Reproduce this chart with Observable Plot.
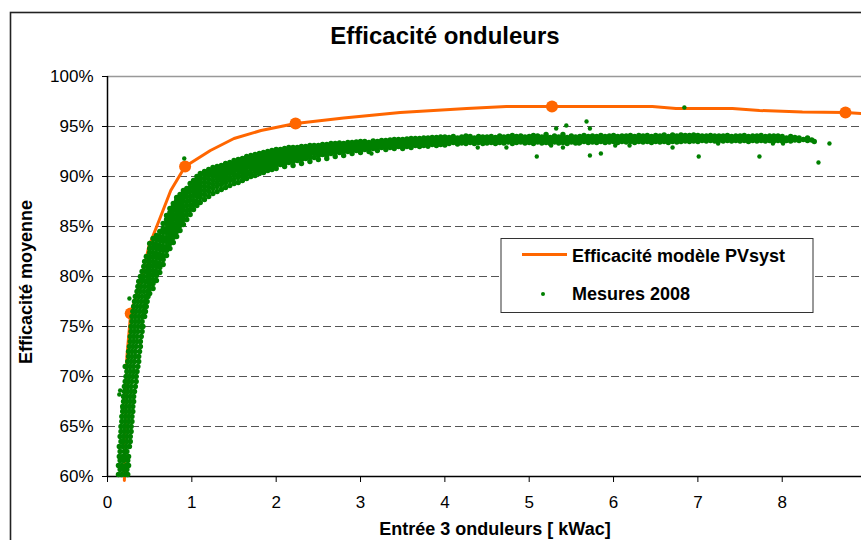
<!DOCTYPE html>
<html><head><meta charset="utf-8">
<script src="https://cdn.jsdelivr.net/npm/d3@7"></script>
<script src="https://cdn.jsdelivr.net/npm/@observablehq/plot@0.6"></script>
<style>
html,body{margin:0;padding:0;background:#fff;overflow:hidden}
#chart{position:relative;width:861px;height:540px}
svg{display:block}
</style></head><body><div id="chart"></div>
<script>
// ---- Tick values ----
const xTicks = [0,1,2,3,4,5,6,7,8];
const yTicks = [60,65,70,75,80,85,90,95,100];

// ---- Efficacité modèle PVsyst (line) ----
const modelX = [0.2,0.23,0.275,0.41,0.49,0.63,0.75,0.92,1.22,1.5,1.82,2.23,2.8,3.47,4.26,4.73,5.27,5.83,6.46,6.74,7.41,7.73,8.24,8.75,8.94];
const modelY = [59.6,72.0,76.3,80.0,83.0,86.0,88.6,91.0,92.6,93.8,94.6,95.3,95.85,96.4,96.8,97.0,97.0,97.0,97.0,96.8,96.8,96.6,96.45,96.4,96.3];
// model markers
const markerX = [0.275,0.92,2.23,5.27,8.75];
const markerY = [76.3,91.0,95.3,97.0,96.4];

// ---- Mesures 2008 (scatter) ----
// steep part, read row by row: [efficacité %, [kWac ...]]
const mesRows = [
[60.2,[.13,.17,.21,.24]],[60.7,[.15,.19,.23]],[61.1,[.13,.17,.22,.25]],[61.6,[.15,.19,.24]],
[62.0,[.14,.18,.21,.25]],[62.5,[.15,.20,.23]],[63.0,[.14,.18,.22,.26]],[63.5,[.16,.19,.23,.27]],
[64.0,[.15,.19,.23,.27]],[64.5,[.16,.20,.24,.28]],[65.0,[.16,.20,.24,.28]],[65.5,[.17,.21,.25,.29]],
[66.0,[.17,.21,.25,.29]],[66.5,[.18,.22,.26,.30]],[67.0,[.18,.22,.26,.30]],[67.5,[.19,.23,.27,.31]],
[68.0,[.19,.23,.27,.31]],[68.5,[.20,.24,.28,.32]],[69.0,[.20,.24,.28,.33]],[69.5,[.21,.25,.29,.34]],
[70.0,[.22,.26,.30,.34]],[70.5,[.23,.27,.31,.35]],[71.0,[.21,.23,.27,.31,.36]],[71.5,[.24,.28,.32,.37]],
[72.0,[.25,.29,.33,.37]],[72.5,[.25,.29,.33,.38]],[73.0,[.26,.30,.34,.39]],[73.5,[.27,.31,.35,.39]],
[74.0,[.27,.31,.35,.40]],[74.5,[.28,.32,.36,.41]],[75.0,[.28,.32,.36,.40,.42]],[75.5,[.29,.33,.37,.41]],
[76.0,[.29,.33,.37,.41,.44]],[76.5,[.30,.34,.38,.42,.45]],[77.0,[.31,.35,.39,.43,.46]],[77.5,[.32,.36,.40,.44,.47]],
[78.0,[.33,.37,.41,.45,.48]],[78.5,[.35,.39,.43,.47]],[79.0,[.36,.40,.44,.48]],[79.5,[.37,.41,.45,.48]],
[80.0,[.39,.43,.47]],[80.5,[.41,.45,.48]],[81.0,[.43,.47]],[81.5,[.44,.48]],[82.0,[.46]]
];
// rest of the cloud, read column by column: [kWac, [efficacité % ...]]
const mesCols = [
[0.50,[78.3,78.8,79.2,79.7,80.1,80.6,81.0,81.5,81.9,82.4,82.8,83.3]],
[0.54,[78.8,79.3,79.7,80.2,80.6,81.1,81.5,82.0,82.4,82.9,83.3,83.8]],
[0.58,[79.6,80.1,80.5,81.0,81.4,81.9,82.3,82.8,83.2,83.7,84.1]],
[0.62,[80.4,80.9,81.3,81.8,82.2,82.7,83.1,83.6,84.0,84.5]],
[0.66,[81.2,81.7,82.1,82.6,83.0,83.5,83.9,84.4,84.8,85.3]],
[0.70,[82.1,82.6,83.0,83.5,83.9,84.4,84.8,85.3,85.7,86.1]],
[0.74,[82.8,83.3,83.7,84.2,84.6,85.1,85.5,86.0,86.4,86.8]],
[0.78,[83.4,83.9,84.3,84.8,85.2,85.7,86.1,86.6,87.0,87.3]],
[0.82,[84.0,84.5,84.9,85.4,85.8,86.3,86.7,87.2,87.6,87.9]],
[0.86,[84.6,85.1,85.5,86.0,86.4,86.9,87.3,87.8,88.2]],
[0.90,[85.2,85.7,86.1,86.6,87.0,87.5,87.9,88.3,88.6]],
[0.94,[85.7,86.2,86.6,87.1,87.5,88.0,88.4,88.8]],
[0.98,[86.2,86.7,87.1,87.6,88.0,88.5,88.9,89.3]],
[1.02,[86.7,87.2,87.6,88.1,88.5,88.9,89.3,89.6]],
[1.06,[87.1,87.5,88.0,88.4,88.8,89.2,89.6,90.0]],
[1.10,[87.4,87.9,88.3,88.7,89.1,89.5,89.9,90.3]],
[1.15,[87.7,88.2,88.6,89.0,89.4,89.8,90.2,90.5]],
[1.20,[88.0,88.5,88.9,89.3,89.7,90.1,90.4,90.7]],
[1.25,[88.3,88.8,89.2,89.6,90.0,90.3,90.6,90.9]],
[1.30,[88.5,89.0,89.4,89.8,90.1,90.4,90.7,91.0]],
[1.35,[88.7,89.2,89.6,89.9,90.2,90.5,90.8,91.1]],
[1.40,[88.9,89.4,89.8,90.1,90.4,90.7,91.0,91.3]],
[1.45,[89.1,89.6,89.9,90.3,90.6,90.9,91.2,91.4]],
[1.50,[89.3,89.7,90.1,90.4,90.7,91.0,91.3,91.6]],
[1.55,[89.4,89.9,90.2,90.6,90.9,91.2,91.5,91.7]],
[1.60,[89.6,90.0,90.4,90.7,91.0,91.3,91.6,91.8]],
[1.65,[89.8,90.2,90.5,90.9,91.2,91.5,91.7,92.0]],
[1.70,[90.0,90.3,90.7,91.0,91.3,91.6,91.8,92.1]],
[1.75,[90.1,90.5,90.8,91.1,91.4,91.7,91.9,92.2]],
[1.80,[90.3,90.6,90.9,91.2,91.5,91.8,92.0,92.3]],
[1.85,[90.4,90.8,91.1,91.4,91.7,91.9,92.2,92.4]],
[1.90,[90.6,90.9,91.2,91.5,91.8,92.0,92.3,92.5]],
[1.95,[90.7,91.0,91.3,91.6,91.9,92.1,92.4,92.6]],
[2.00,[90.8,91.1,91.4,91.7,92.0,92.2,92.4,92.7]],
[2.05,[91.2,91.5,91.8,92.1,92.3,92.5,92.7]],
[2.10,[91.0,91.3,91.6,91.9,92.2,92.4,92.6,92.8]],
[2.15,[91.4,91.7,92.0,92.3,92.5,92.7,92.9]],
[2.20,[91.1,91.5,91.8,92.1,92.4,92.6,92.9]],
[2.25,[91.6,91.9,92.2,92.5,92.7,92.9]],
[2.30,[91.3,91.7,92.0,92.3,92.6,92.8,93.0]],
[2.35,[91.8,92.1,92.4,92.6,92.8,93.0]],
[2.40,[91.5,91.9,92.2,92.5,92.7,92.9,93.1]],
[2.45,[91.9,92.3,92.6,92.8,93.0,93.1]],
[2.50,[91.7,92.1,92.4,92.7,92.9,93.1]],
[2.55,[92.2,92.5,92.8,93.0,93.2]],
[2.60,[91.8,92.1,92.4,92.7,92.9,93.2]],
[2.65,[92.3,92.6,92.9,93.1,93.3]],
[2.70,[92.0,92.4,92.7,92.9,93.1,93.3]],
[2.75,[92.4,92.7,93.0,93.2,93.35]],
[2.80,[92.1,92.5,92.8,93.1,93.3]],
[2.85,[92.5,92.8,93.0,93.2,93.4]],
[2.90,[92.3,92.6,92.9,93.1,93.4]],
[2.95,[92.6,92.9,93.2,93.45]],
[3.00,[92.4,92.7,93.0,93.2,93.5]],
[3.05,[92.7,93.0,93.3,93.5]],
[3.10,[92.5,92.8,93.1,93.4]],
[3.15,[92.8,93.1,93.3,93.55]],
[3.20,[92.6,92.9,93.2,93.5]],
[3.25,[92.9,93.2,93.4,93.6]],
[3.30,[92.7,93.0,93.3,93.6]],
[3.35,[92.9,93.2,93.4,93.65]],
[3.40,[92.8,93.1,93.4,93.7]],
[3.45,[93.0,93.3,93.5,93.7]],
[3.50,[92.8,93.1,93.4,93.7]],
[3.55,[93.0,93.3,93.5,93.75]],
[3.60,[92.9,93.2,93.5,93.8]],
[3.65,[93.1,93.4,93.6,93.8]],
[3.70,[93.0,93.3,93.55,93.8]],
[3.75,[93.1,93.4,93.65,93.85]],
[3.80,[93.05,93.35,93.6,93.85]],
[3.85,[93.2,93.45,93.7,93.9]],
[3.90,[93.1,93.4,93.65,93.9]],
[3.95,[93.2,93.5,93.75,93.95]],
[4.00,[93.15,93.45,93.7,93.95]],
[4.05,[93.3,93.6,93.9]],[4.10,[93.4,93.7,94.0]],[4.15,[93.25,93.55,93.85]],[4.20,[93.35,93.65,93.95]],
[4.25,[93.3,93.6,93.9,94.05]],[4.30,[93.4,93.7,94.0]],[4.35,[93.3,93.6,93.85]],[4.40,[93.4,93.7,94.0]],
[4.45,[93.3,93.6,93.95]],[4.50,[93.35,93.65,93.95]],[4.55,[93.4,93.7,94.0]],[4.60,[93.3,93.6,93.9]],
[4.65,[93.4,93.75,94.05]],[4.70,[93.35,93.65,93.95]],[4.75,[93.45,93.75,94.0]],[4.80,[93.3,93.6,93.9,94.1]],
[4.85,[93.4,93.7,94.0]],[4.90,[93.45,93.75,94.05]],[4.95,[93.35,93.65,93.95]],[5.00,[93.4,93.7,94.0]],
[5.05,[93.3,93.6,93.9,94.1]],[5.10,[93.45,93.75,94.05]],[5.15,[93.35,93.65,93.95]],[5.20,[93.4,93.7,94.0,94.2]],
[5.25,[93.3,93.6,93.9]],[5.30,[93.45,93.75,94.05]],[5.35,[93.35,93.65,93.95]],[5.40,[93.4,93.7,94.0,94.2]],
[5.45,[93.3,93.6,93.9]],[5.50,[93.45,93.75,94.05]],[5.55,[93.35,93.65,93.95]],[5.60,[93.4,93.7,94.0]],
[5.65,[93.5,93.8,94.1]],[5.70,[93.4,93.7,94.0]],[5.75,[93.45,93.75,94.05]],[5.80,[93.4,93.7,94.0]],
[5.85,[93.5,93.8,94.1]],[5.90,[93.4,93.7,94.0]],[5.95,[93.45,93.75,94.05]],[6.00,[93.5,93.8,94.1]],
[6.05,[93.4,93.7,94.0]],[6.10,[93.5,93.8,94.05]],[6.15,[93.45,93.75,94.05]],[6.20,[93.5,93.8,94.1]],
[6.25,[93.4,93.7,94.0]],[6.30,[93.5,93.8,94.1]],[6.35,[93.45,93.75,94.05]],[6.40,[93.5,93.8,94.1]],
[6.45,[93.4,93.7,94.0]],[6.50,[93.5,93.8,94.1]],[6.55,[93.45,93.75,94.05]],[6.60,[93.5,93.8,94.15]],
[6.65,[93.4,93.7,94.0]],[6.70,[93.5,93.8,94.15]],[6.75,[93.45,93.75,94.05]],[6.80,[93.5,93.8,94.15]],
[6.85,[93.55,93.85,94.1]],[6.90,[93.5,93.8,94.1]],[6.95,[93.55,93.85,94.15]],[7.00,[93.5,93.8,94.1]],
[7.05,[93.6,93.85,94.05]],[7.10,[93.55,93.8,94.05]],[7.15,[93.6,93.85,94.1]],[7.20,[93.55,93.8,94.05]],
[7.25,[93.6,93.85,94.05]],[7.30,[93.55,93.8,94.05]],[7.35,[93.6,93.85,94.1]],[7.40,[93.55,93.8,94.0]],
[7.45,[93.6,93.85,94.05]],[7.50,[93.55,93.8,94.05]],[7.55,[93.6,93.85,94.1]],[7.60,[93.5,93.75,94.0]],
[7.65,[93.6,93.85,94.05]],[7.70,[93.55,93.8,94.05]],[7.75,[93.6,93.85,94.1]],[7.80,[93.55,93.8,94.0]],
[7.85,[93.6,93.85,94.05]],[7.90,[93.55,93.8,94.05]],[7.95,[93.6,93.85,94.05]],[8.00,[93.55,93.8,94.0]],
[8.05,[93.6,93.85]],[8.10,[93.55,93.8,94.0]],[8.15,[93.65,93.9]],[8.20,[93.6,93.85]],
[8.25,[93.7]],[8.30,[93.6,93.85]],[8.35,[93.65]],[8.38,[93.5]]
];
// isolated measurements: [kWac, efficacité %]
const mesOutliers = [
[0.91,91.8],[0.26,77.8],[0.15,68.6],[0.14,68.2],[0.18,66.8],[0.41,79.8],
[3.13,92.3],[3.80,93.0],[4.39,92.9],[4.73,92.9],[5.09,92.0],[5.26,93.1],[5.32,94.8],[5.44,95.1],
[5.40,92.9],[5.68,95.5],[5.72,94.8],[5.72,92.1],[5.59,93.3],[5.85,92.3],[6.02,93.1],[6.19,93.1],
[6.70,92.9],[6.84,96.9],[7.01,92.0],[7.24,93.3],[7.73,92.0],[7.89,93.3],[8.01,93.3],[8.43,91.4],[8.56,93.3]
];

// ---- build tables ----
const model = modelX.map((x, i) => ({x, y: modelY[i]}));
const markers = markerX.map((x, i) => ({x, y: markerY[i]}));
const mesures = [];
for (const [y, xs] of mesRows) for (const x of xs) mesures.push({x, y});
for (const [x, ys] of mesCols) for (const y of ys) mesures.push({x, y});
const outliers = mesOutliers.map(([x, y]) => ({x, y}));

const FONT = '"Liberation Sans", Arial, Helvetica, sans-serif';
const ORANGE = "#FF6600", GREEN = "#008000";

const plot = Plot.plot({
  width: 861, height: 540,
  marginLeft: 107, marginRight: 0, marginTop: 76, marginBottom: 64,
  style: {fontFamily: FONT, background: "#fff", color: "#000", overflow: "visible"},
  x: {domain: [0, 8.94]},
  y: {domain: [60, 100]},
  marks: [
    Plot.ruleY(yTicks.filter(d => d > 60 && d < 100), {stroke: "#555", strokeDasharray: "8,4", strokeWidth: 1}),
    Plot.ruleY([100], {stroke: "#999", strokeWidth: 1.5}),
    Plot.axisY(yTicks, {tickFormat: d => d + "%", tickSize: 5, tickPadding: 9, fontSize: 17, label: null, stroke: "#000"}),
    Plot.axisX(xTicks, {tickFormat: d => String(d), tickSize: 6, tickPadding: 13, fontSize: 17, label: null, stroke: "#000"}),
    Plot.ruleX([0], {stroke: "#000", strokeWidth: 1.5}),
    Plot.ruleY([60], {stroke: "#000", strokeWidth: 1.5}),
    Plot.line(model, {x: "x", y: "y", stroke: ORANGE, strokeWidth: 3}),
    Plot.dot(markers, {x: "x", y: "y", r: 6, fill: ORANGE}),
    Plot.dot(mesures, {x: "x", y: "y", r: 2.7, fill: GREEN}),
    Plot.dot(outliers, {x: "x", y: "y", r: 2.2, fill: GREEN})
  ]
});

const svg = d3.select(plot);
svg.style("font-family", FONT);
// chart-area border
svg.append("rect").attr("x", 10.5).attr("y", 12.5).attr("width", 900).attr("height", 600)
  .attr("fill", "none").attr("stroke", "#222").attr("stroke-width", 1.6);
// title
svg.append("text").attr("x", 445).attr("y", 44).attr("text-anchor", "middle")
  .attr("font-size", 24).attr("font-weight", "bold").attr("fill", "#000").text("Efficacité onduleurs");
// axis titles
svg.append("text").attr("transform", "translate(32,282) rotate(-90)").attr("text-anchor", "middle")
  .attr("font-size", 18).attr("font-weight", "bold").attr("fill", "#000").text("Efficacité moyenne");
svg.append("text").attr("x", 495).attr("y", 535).attr("text-anchor", "middle")
  .attr("font-size", 18).attr("font-weight", "bold").attr("fill", "#000").text("Entrée 3 onduleurs [ kWac]");
// legend
const lg = svg.append("g").attr("text-anchor", "start");
lg.append("rect").attr("x", 501).attr("y", 238.5).attr("width", 312).attr("height", 74)
  .attr("fill", "#fff").attr("stroke", "#333").attr("stroke-width", 1);
lg.append("line").attr("x1", 522).attr("x2", 567).attr("y1", 254.5).attr("y2", 254.5)
  .attr("stroke", ORANGE).attr("stroke-width", 3);
lg.append("text").attr("x", 572).attr("y", 262).attr("text-anchor", "start").attr("font-size", 18).attr("font-weight", "bold")
  .attr("fill", "#000").text("Efficacité modèle PVsyst");
lg.append("circle").attr("cx", 543).attr("cy", 294).attr("r", 2).attr("fill", GREEN);
lg.append("text").attr("x", 572).attr("y", 300).attr("text-anchor", "start").attr("font-size", 18).attr("font-weight", "bold")
  .attr("fill", "#000").text("Mesures 2008");

document.getElementById("chart").appendChild(plot);
</script>
</body></html>
